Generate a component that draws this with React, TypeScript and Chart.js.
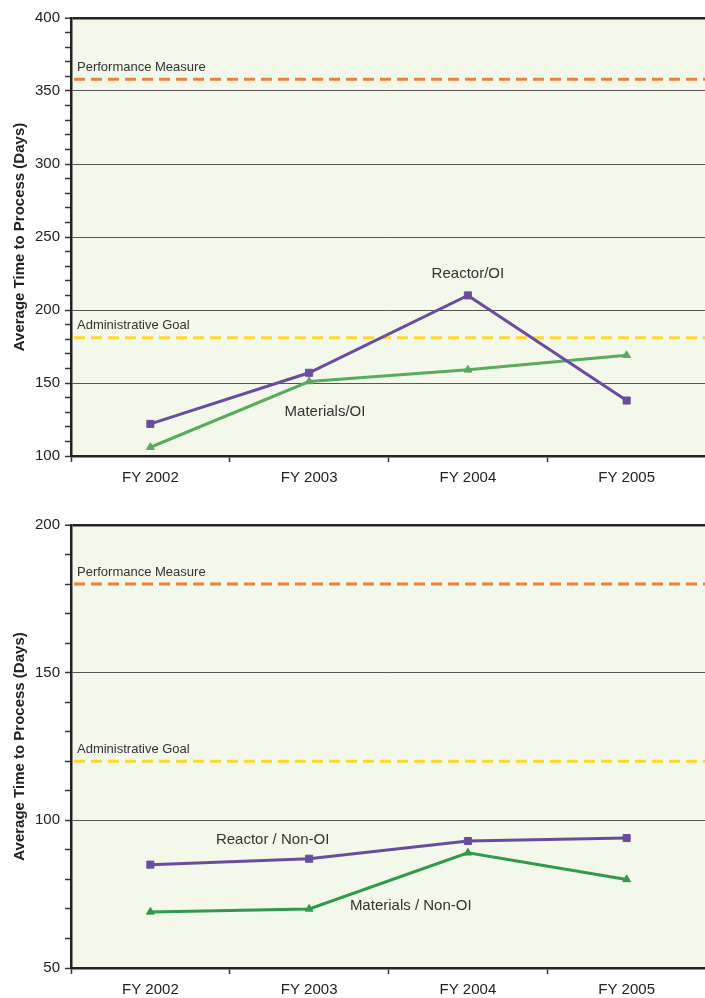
import React, { useEffect, useRef } from 'react';
import { Chart, registerables } from 'chart.js';

Chart.register(...registerables);

// ---- data ----
const categories = ['FY 2002', 'FY 2003', 'FY 2004', 'FY 2005'];

const reactorOI = [122, 157, 210, 138];
const materialsOI = [106, 151, 159, 169];

const reactorNonOI = [85, 87, 93, 94];
const materialsNonOI = [69, 70, 89, 80];

const refLabels = ['Performance Measure', 'Administrative Goal'];
const oiRefValues = [358, 181];
const nonOiRefValues = [180, 120];

const oiRange = [100, 400];
const nonOiRange = [50, 200];

const yTitle = 'Average Time to Process (Days)';

// ---- styles ----
const FONT = '"Liberation Sans", Arial, Helvetica, sans-serif';
const PURPLE = '#6a4c9f';
const GREEN_LIGHT = '#5aab5e';
const GREEN_DARK = '#2e9a4c';
const ORANGE = '#f0803c';
const YELLOW = '#ffd633';
const REF_COLORS = [ORANGE, YELLOW];
const BG = '#f4f8eb';

const bgPlugin = {
  id: 'areaBg',
  beforeDraw(chart: any) {
    const { ctx, chartArea: a } = chart;
    if (!a) return;
    ctx.save();
    ctx.fillStyle = BG;
    ctx.fillRect(a.left, a.top, a.right - a.left, a.bottom - a.top);
    ctx.restore();
  },
};

const refPlugin = {
  id: 'refLines',
  beforeDatasetsDraw(chart: any, _args: any, opts: any) {
    const { ctx, chartArea: a, scales } = chart;
    const y = scales.y;
    ctx.save();
    (opts.lines || []).forEach((l: any) => {
      const py = y.getPixelForValue(l.value);
      ctx.strokeStyle = l.color;
      ctx.lineWidth = 3;
      ctx.setLineDash([11, 6]);
      ctx.beginPath();
      ctx.moveTo(a.left + 3, py);
      ctx.lineTo(a.right, py);
      ctx.stroke();
      ctx.setLineDash([]);
      ctx.fillStyle = '#333';
      ctx.font = '13px ' + FONT;
      ctx.textAlign = 'left';
      ctx.textBaseline = 'middle';
      ctx.fillText(l.label, a.left + 6, py - 12);
    });
    ctx.restore();
  },
  afterDatasetsDraw(chart: any, _args: any, opts: any) {
    const { ctx, scales } = chart;
    ctx.save();
    ctx.fillStyle = '#333';
    ctx.font = '15px ' + FONT;
    ctx.textAlign = 'center';
    ctx.textBaseline = 'middle';
    (opts.texts || []).forEach((t: any) => {
      ctx.fillText(t.text, scales.x.getPixelForValue(t.x), scales.y.getPixelForValue(t.y));
    });
    ctx.restore();
  },
};

function makeConfig(opts: {
  series: { data: number[]; color: string; style: string; radius: number }[];
  range: number[];
  refs: number[];
  texts: { text: string; x: number; y: number }[];
  padTop: number;
  xHeight: number;
}) {
  const [min, max] = opts.range;
  return {
    type: 'line',
    data: {
      labels: categories,
      datasets: opts.series.map((s) => ({
        data: s.data,
        borderColor: s.color,
        backgroundColor: s.color,
        borderWidth: 3,
        pointStyle: s.style,
        pointRadius: s.radius,
        pointBorderWidth: 1,
        pointBorderColor: s.color,
        pointBackgroundColor: s.color,
        tension: 0,
        fill: false,
      })),
    },
    options: {
      animation: false,
      responsive: false,
      devicePixelRatio: 1,
      events: [],
      layout: { padding: { top: opts.padTop, right: 2, left: 0, bottom: 0 } },
      plugins: {
        legend: { display: false },
        tooltip: { enabled: false },
        refLines: {
          lines: opts.refs.map((v, i) => ({ value: v, color: REF_COLORS[i], label: refLabels[i] })),
          texts: opts.texts,
        },
      },
      scales: {
        x: {
          offset: true,
          afterFit(s: any) {
            s.height = opts.xHeight;
          },
          grid: {
            offset: true,
            drawOnChartArea: false,
            drawTicks: true,
            tickLength: 6,
            color: '#333',
            tickWidth: 1.5,
          },
          border: { color: '#222', width: 2.5 },
          ticks: { font: { size: 15, family: FONT }, color: '#222', padding: 7, maxRotation: 0 },
        },
        y: {
          min,
          max,
          afterFit(s: any) {
            s.width = 71;
          },
          ticks: {
            stepSize: 10,
            autoSkip: false,
            callback: (v: any) => (v % 50 === 0 ? String(v) : ''),
            font: { size: 15, family: FONT },
            color: '#222',
            padding: 5,
          },
          grid: {
            color: (c: any) =>
              c.tick && c.tick.value % 50 === 0 ? (c.tick.value === max ? '#222' : '#555') : 'rgba(0,0,0,0)',
            lineWidth: (c: any) => (c.tick && c.tick.value === max ? 2.5 : 1),
            tickColor: '#333',
            tickWidth: 1.5,
            tickLength: 6,
            drawTicks: true,
          },
          border: { color: '#222', width: 2.5 },
          title: {
            display: true,
            text: yTitle,
            color: '#222',
            font: { size: 15, weight: 'bold', family: FONT },
            padding: { top: 11, bottom: 0 },
          },
        },
      },
    },
    plugins: [bgPlugin, refPlugin],
  };
}

function ChartCanvas({ config, width, height, top }: { config: any; width: number; height: number; top: number }) {
  const ref = useRef<HTMLCanvasElement | null>(null);
  useEffect(() => {
    if (!ref.current) return;
    const chart = new Chart(ref.current, config);
    return () => chart.destroy();
  }, []);
  return (
    <canvas
      ref={ref}
      width={width}
      height={height}
      style={{ position: 'absolute', left: 0, top, width, height, display: 'block' }}
    />
  );
}

export default function App() {
  const topConfig = makeConfig({
    series: [
      { data: reactorOI, color: PURPLE, style: 'rect', radius: 5 },
      { data: materialsOI, color: GREEN_LIGHT, style: 'triangle', radius: 4.5 },
    ],
    range: oiRange,
    refs: oiRefValues,
    texts: [
      { text: 'Reactor/OI', x: 2, y: 225 },
      { text: 'Materials/OI', x: 1.1, y: 130 },
    ],
    padTop: 18,
    xHeight: 44,
  });
  const bottomConfig = makeConfig({
    series: [
      { data: reactorNonOI, color: PURPLE, style: 'rect', radius: 5 },
      { data: materialsNonOI, color: GREEN_DARK, style: 'triangle', radius: 4.5 },
    ],
    range: nonOiRange,
    refs: nonOiRefValues,
    texts: [
      { text: 'Reactor / Non-OI', x: 0.77, y: 93.3 },
      { text: 'Materials / Non-OI', x: 1.64, y: 71 },
    ],
    padTop: 25,
    xHeight: 30,
  });
  return (
    <div
      style={{
        position: 'absolute',
        left: 0,
        top: 0,
        width: 705,
        height: 998,
        overflow: 'hidden',
        background: '#fff',
      }}
    >
      <ChartCanvas config={topConfig} width={712} height={500} top={0} />
      <ChartCanvas config={bottomConfig} width={712} height={498} top={500} />
    </div>
  );
}
